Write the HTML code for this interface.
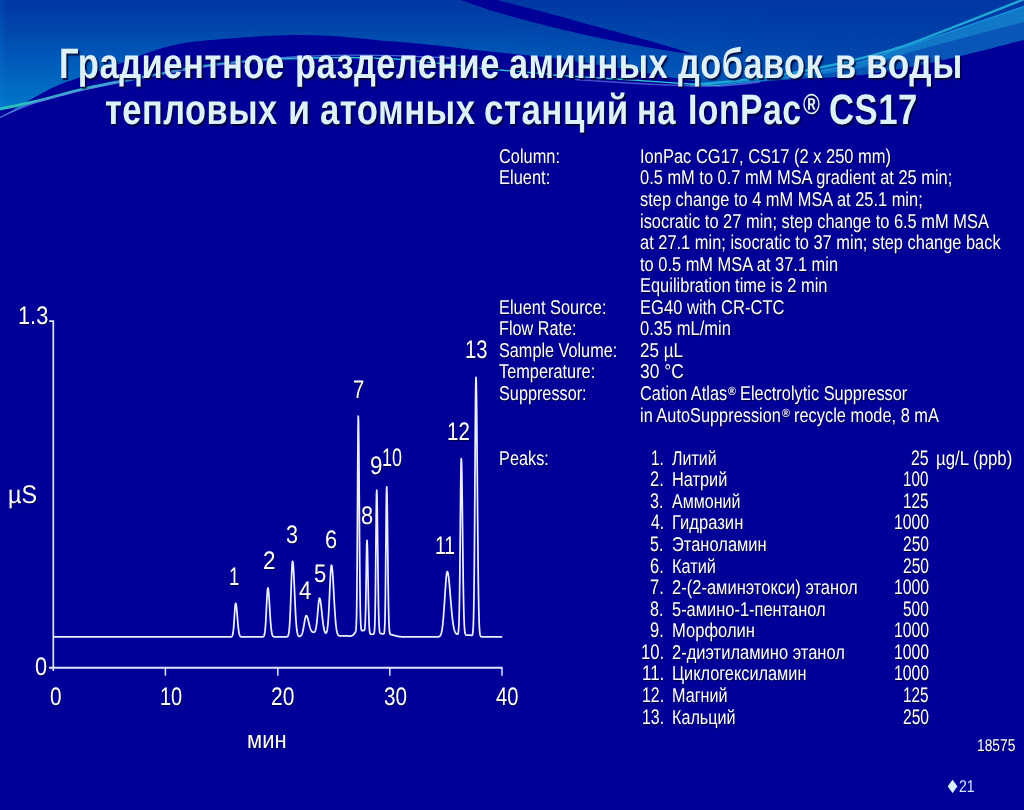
<!DOCTYPE html>
<html lang="ru"><head><meta charset="utf-8"><title>Градиентное разделение аминных добавок</title>
<style>
*{margin:0;padding:0;box-sizing:border-box}
html,body{width:1024px;height:810px;overflow:hidden;background:#000099}
body{position:relative;font-family:"Liberation Sans",sans-serif;color:#fff}
#bg,#ch{position:absolute;left:0;top:0;width:1024px;height:810px}
.t{position:absolute;white-space:pre;line-height:1;transform-origin:0 0;text-rendering:geometricPrecision}
.ttl{font-weight:bold;font-size:42.5px;color:#dcf1f9;text-shadow:2px 2px 1.5px rgba(0,0,40,0.85)}
.b{font-size:19.9px;text-shadow:1px 1px 0 #00003a}
.c{font-size:25.3px;text-shadow:1px 1px 0 #00003a}
.s{font-size:16.5px;text-shadow:1px 1px 0 #00003a}
</style></head>
<body>
<svg id="bg" width="1024" height="810" viewBox="0 0 1024 810">
<defs>
<linearGradient id="g1" gradientUnits="userSpaceOnUse" x1="0" y1="0" x2="0" y2="120">
<stop offset="0" stop-color="#0037a3"/><stop offset="0.28" stop-color="#0049ad"/><stop offset="0.5" stop-color="#005ab9"/><stop offset="0.77" stop-color="#006ec3"/><stop offset="1" stop-color="#0080cc"/>
</linearGradient>
<linearGradient id="g3" gradientUnits="userSpaceOnUse" x1="0" y1="0" x2="330" y2="0">
<stop offset="0" stop-color="#2cc0c0" stop-opacity="1"/><stop offset="0.5" stop-color="#2cc0c8" stop-opacity="0.8"/><stop offset="1" stop-color="#2cc0c8" stop-opacity="0"/>
</linearGradient>
<linearGradient id="g2" gradientUnits="userSpaceOnUse" x1="0" y1="0" x2="1024" y2="0">
<stop offset="0" stop-color="#0a8ae0" stop-opacity="0.18"/><stop offset="0.006" stop-color="#0a8ae0" stop-opacity="0"/>
<stop offset="0.5" stop-color="#0036a4" stop-opacity="0"/><stop offset="0.8" stop-color="#0036a4" stop-opacity="0.5"/><stop offset="1" stop-color="#0036a4" stop-opacity="0.6"/>
</linearGradient>
</defs>
<rect width="1024" height="810" fill="#000099"/>
<path d="M-2,-2H1026V39.2C1015.0,42.0 979.8,51.3 960.0,56.0C940.2,60.7 925.3,64.2 907.0,67.5C888.7,70.8 868.0,74.2 850.0,76.0C832.0,77.8 815.3,77.4 799.0,78.5C782.7,79.6 765.2,81.3 752.0,82.5C738.8,83.7 730.3,84.8 720.0,85.5C709.7,86.2 695.0,86.8 690.0,87.0L690.0,84.0C681.7,83.4 655.0,81.5 640.0,80.5C625.0,79.5 613.3,78.8 600.0,78.0C586.7,77.2 571.7,76.4 560.0,75.5C548.3,74.6 540.0,73.4 530.0,72.5C520.0,71.6 508.3,70.7 500.0,70.0C491.7,69.3 487.0,69.1 480.0,68.3C473.0,67.5 468.5,66.6 458.0,65.4C447.5,64.2 427.5,62.1 417.0,61.0C406.5,59.9 406.2,59.6 395.0,59.0C383.8,58.4 365.8,57.6 350.0,57.5C334.2,57.4 315.0,57.9 300.0,58.3C285.0,58.7 276.7,58.6 260.0,60.0C243.3,61.4 223.3,63.0 200.0,66.6C176.7,70.2 139.5,77.8 120.0,81.5C100.5,85.2 93.0,86.8 83.0,89.0C73.0,91.2 68.8,92.7 60.0,95.0C51.2,97.3 40.3,100.3 30.0,102.7C19.7,105.1 3.3,108.4 -2.0,109.5L-2,119Z" fill="url(#g1)"/>
<path d="M-2,-2H1026V39.2C1015.0,42.0 979.8,51.3 960.0,56.0C940.2,60.7 925.3,64.2 907.0,67.5C888.7,70.8 868.0,74.2 850.0,76.0C832.0,77.8 815.3,77.4 799.0,78.5C782.7,79.6 765.2,81.3 752.0,82.5C738.8,83.7 730.3,84.8 720.0,85.5C709.7,86.2 695.0,86.8 690.0,87.0L690.0,84.0C681.7,83.4 655.0,81.5 640.0,80.5C625.0,79.5 613.3,78.8 600.0,78.0C586.7,77.2 571.7,76.4 560.0,75.5C548.3,74.6 540.0,73.4 530.0,72.5C520.0,71.6 508.3,70.7 500.0,70.0C491.7,69.3 487.0,69.1 480.0,68.3C473.0,67.5 468.5,66.6 458.0,65.4C447.5,64.2 427.5,62.1 417.0,61.0C406.5,59.9 406.2,59.6 395.0,59.0C383.8,58.4 365.8,57.6 350.0,57.5C334.2,57.4 315.0,57.9 300.0,58.3C285.0,58.7 276.7,58.6 260.0,60.0C243.3,61.4 223.3,63.0 200.0,66.6C176.7,70.2 139.5,77.8 120.0,81.5C100.5,85.2 93.0,86.8 83.0,89.0C73.0,91.2 68.8,92.7 60.0,95.0C51.2,97.3 40.3,100.3 30.0,102.7C19.7,105.1 3.3,108.4 -2.0,109.5L-2,119Z" fill="url(#g2)"/>
<path d="M-2,109.5C10,107 20,105 32,102.3C22,107 10,112.5 -2,118.5Z" fill="#0a78c8"/>
<path d="M720.0,85.0C730.7,83.8 765.7,80.2 784.0,77.5C802.3,74.8 817.2,71.6 830.0,69.0C842.8,66.4 848.3,65.6 860.6,62.0C872.9,58.4 876.4,56.9 904.0,47.5C931.6,38.1 1005.7,12.8 1026.0,5.8V39.2C1015.0,42.0 979.8,51.3 960.0,56.0C940.2,60.7 925.3,64.2 907.0,67.5C888.7,70.8 868.0,74.2 850.0,76.0C832.0,77.8 815.3,77.4 799.0,78.5C782.7,79.6 765.2,81.3 752.0,82.5C738.8,83.7 730.3,84.8 720.0,85.5C709.7,86.2 695.0,86.8 690.0,87.0Z" fill="#0a55b8"/>
<path d="M720.0,85.0C730.7,83.8 765.7,80.2 784.0,77.5C802.3,74.8 817.2,71.6 830.0,69.0C842.8,66.4 848.3,65.6 860.6,62.0C872.9,58.4 876.4,56.9 904.0,47.5C931.6,38.1 1005.7,12.8 1026.0,5.8V21.5C1005.7,26.9 931.7,46.2 904.0,54.0C876.3,61.8 880.0,63.8 860.0,68.0C840.0,72.2 796.7,77.2 784.0,79.0Z" fill="#1178c8"/>
<path d="M-2.0,119.0C3.0,116.0 17.7,106.8 28.0,101.0C38.3,95.2 48.0,89.5 60.0,84.5C72.0,79.5 81.7,77.4 100.0,71.0C118.3,64.6 148.3,51.4 170.0,46.0C191.7,40.6 209.3,40.3 230.0,38.5C250.7,36.7 275.7,35.3 294.0,35.0C312.3,34.7 325.7,35.6 340.0,36.5C354.3,37.4 370.0,39.6 380.0,40.5C390.0,41.4 390.0,41.1 400.0,42.0C410.0,42.9 428.3,44.5 440.0,45.8C451.7,47.0 458.3,48.2 470.0,49.5C481.7,50.8 496.7,52.1 510.0,53.5C523.3,54.9 535.0,55.8 550.0,57.7C565.0,59.6 585.0,62.6 600.0,65.0C615.0,67.4 626.7,69.7 640.0,72.0C653.3,74.3 670.0,77.3 680.0,79.0C690.0,80.7 696.7,81.5 700.0,82.0L690,84C681.7,83.4 655.0,81.5 640.0,80.5C625.0,79.5 613.3,78.8 600.0,78.0C586.7,77.2 571.7,76.4 560.0,75.5C548.3,74.6 540.0,73.4 530.0,72.5C520.0,71.6 508.3,70.7 500.0,70.0C491.7,69.3 487.0,69.1 480.0,68.3C473.0,67.5 468.5,66.6 458.0,65.4C447.5,64.2 427.5,62.1 417.0,61.0C406.5,59.9 406.2,59.6 395.0,59.0C383.8,58.4 365.8,57.6 350.0,57.5C334.2,57.4 315.0,57.9 300.0,58.3C285.0,58.7 276.7,58.6 260.0,60.0C243.3,61.4 223.3,63.0 200.0,66.6C176.7,70.2 139.5,77.8 120.0,81.5C100.5,85.2 93.0,86.8 83.0,89.0C73.0,91.2 68.8,92.7 60.0,95.0C51.2,97.3 40.3,100.3 30.0,102.7C19.7,105.1 3.3,108.4 -2.0,109.5L-2,119Z" fill="#000099"/>
<path d="M457.0,-2.0C457.6,-1.7 452.0,-2.9 460.5,0.0C469.0,2.9 488.6,10.0 508.0,15.5C527.4,21.0 554.2,27.8 577.0,33.0C599.8,38.2 625.2,43.1 645.0,46.8C664.8,50.5 687.5,53.6 696.0,55.0C689.8,53.1 674.3,47.9 659.0,43.5C643.7,39.1 622.3,33.5 604.0,28.5C585.7,23.5 566.8,18.2 549.0,13.5C531.2,8.8 506.7,2.6 497.4,0.0C488.1,-2.6 493.7,-1.7 493.0,-2.0Z" fill="#000099"/>
<path d="M-2.0,109.5C3.3,108.4 19.7,105.1 30.0,102.7C40.3,100.3 51.2,97.3 60.0,95.0C68.8,92.7 73.0,91.2 83.0,89.0C93.0,86.8 100.5,85.2 120.0,81.5C139.5,77.8 176.7,70.2 200.0,66.6C223.3,63.0 243.3,61.4 260.0,60.0C276.7,58.6 285.0,58.7 300.0,58.3C315.0,57.9 334.2,57.4 350.0,57.5C365.8,57.6 383.8,58.4 395.0,59.0C406.2,59.6 406.5,59.9 417.0,61.0C427.5,62.1 447.5,64.2 458.0,65.4C468.5,66.6 473.0,67.5 480.0,68.3C487.0,69.1 491.7,69.3 500.0,70.0C508.3,70.7 520.0,71.6 530.0,72.5C540.0,73.4 548.3,74.6 560.0,75.5C571.7,76.4 586.7,77.2 600.0,78.0C613.3,78.8 625.0,79.5 640.0,80.5C655.0,81.5 676.7,83.2 690.0,84.0C703.3,84.8 715.0,85.2 720.0,85.5" fill="none" stroke="#2cc6cc" stroke-width="1.3"/>
<path d="M-2.0,109.5C3.3,108.4 19.7,105.1 30.0,102.7C40.3,100.3 51.2,97.3 60.0,95.0C68.8,92.7 73.0,91.2 83.0,89.0C93.0,86.8 100.5,85.2 120.0,81.5C139.5,77.8 176.7,70.2 200.0,66.6C223.3,63.0 243.3,61.4 260.0,60.0C276.7,58.6 285.0,58.7 300.0,58.3C315.0,57.9 341.7,57.6 350.0,57.5" fill="none" stroke="url(#g3)" stroke-width="2.8"/>
<path d="M-2,118.5C10,112.5 22,107 34,103C60,95 100,85 160,74C200,67 250,59 300,56.5C350,54 400,55 450,58" fill="none" stroke="#5a82e8" stroke-width="1.4" opacity="0.8"/>
<path d="M700.0,84.0C706.7,83.4 726.0,82.1 740.0,80.5C754.0,78.9 769.0,77.0 784.0,74.5C799.0,72.0 817.2,68.2 830.0,65.5C842.8,62.8 850.0,61.0 860.6,58.3C871.2,55.6 882.8,52.6 893.4,49.3C904.0,46.0 901.9,47.1 924.0,38.6C946.1,30.1 1009.0,5.2 1026.0,-1.5" fill="none" stroke="#1fa6d6" stroke-width="2.4"/>
<path d="M720.0,85.0C730.7,83.8 765.7,80.2 784.0,77.5C802.3,74.8 817.2,71.6 830.0,69.0C842.8,66.4 848.3,65.6 860.6,62.0C872.9,58.4 876.4,56.9 904.0,47.5C931.6,38.1 1005.7,12.8 1026.0,5.8" fill="none" stroke="#1a90d8" stroke-width="1.3"/>
<path d="M575,79.5C620,82.5 680,87 720,86C740,85 750,83.5 760,82" fill="none" stroke="#5566dd" stroke-width="1.3" opacity="0.8"/>
</svg>
<svg id="ch" width="1024" height="810" viewBox="0 0 1024 810" fill="none" stroke="#e2e5ff" stroke-width="1.7">
<path d="M49.2,321.2H53.3V671"/>
<path d="M49,667.8H502.6" stroke-width="1.9"/>
<path d="M165.4,667.8V675.8M277.8,667.8V675.8M389.8,667.8V675.8M502,667.8V675.8" stroke-width="1.5"/>
<path d="M53.50,636.9L230.25,636.9L230.50,636.9L230.75,636.9L231.00,636.9L231.25,636.8L231.50,636.7L231.75,636.6L232.00,636.3L232.25,635.9L232.50,635.3L232.75,634.3L233.00,633.0L233.25,631.2L233.50,628.9L233.75,626.0L234.00,622.6L234.25,618.9L234.50,615.0L234.75,611.2L235.00,607.8L235.25,605.3L235.50,603.7L235.75,603.3L236.00,603.9L236.25,605.2L236.50,607.1L236.75,609.6L237.00,612.5L237.25,615.6L237.50,618.7L237.75,621.7L238.00,624.6L238.25,627.1L238.50,629.3L238.75,631.1L239.00,632.6L239.25,633.8L239.50,634.7L239.75,635.4L240.00,635.9L240.25,636.2L240.50,636.5L240.75,636.6L241.00,636.7L241.25,636.8L241.50,636.8L241.75,636.9L242.00,636.9L242.25,636.9L262.00,636.9L262.25,636.9L262.50,636.9L262.75,636.8L263.00,636.8L263.25,636.7L263.50,636.5L263.75,636.3L264.00,635.9L264.25,635.3L264.50,634.3L264.75,633.0L265.00,631.2L265.25,628.7L265.50,625.6L265.75,621.8L266.00,617.4L266.25,612.4L266.50,607.2L266.75,601.9L267.00,597.0L267.25,592.9L267.50,589.9L267.75,588.2L268.00,588.0L268.25,588.9L268.50,590.7L268.75,593.4L269.00,596.7L269.25,600.5L269.50,604.6L269.75,608.9L270.00,613.0L270.25,617.0L270.50,620.6L270.75,623.9L271.00,626.7L271.25,629.1L271.50,631.0L271.75,632.5L272.00,633.8L272.25,634.7L272.50,635.4L272.75,635.8L273.00,636.2L273.25,636.4L273.50,636.6L273.75,636.7L274.00,636.8L274.25,636.8L274.50,636.9L274.75,636.9L275.00,636.9L275.25,636.9L286.00,636.9L286.25,636.9L286.50,636.9L286.75,636.8L287.00,636.8L287.25,636.7L287.50,636.6L287.75,636.3L288.00,636.0L288.25,635.4L288.50,634.6L288.75,633.4L289.00,631.8L289.25,629.6L289.50,626.7L289.75,622.9L290.00,618.4L290.25,612.9L290.50,606.7L290.75,599.8L291.00,592.5L291.25,585.1L291.50,578.1L291.75,571.8L292.00,566.7L292.25,563.1L292.50,561.4L292.75,561.4L293.00,562.8L293.25,565.3L293.50,568.9L293.75,573.4L294.00,578.6L294.25,584.2L294.50,590.1L294.75,596.0L295.00,601.7L295.25,607.1L295.50,612.1L295.75,616.6L296.00,620.6L296.25,624.0L296.50,626.8L296.75,629.1L297.00,631.0L297.25,632.5L297.50,633.6L297.75,634.5L298.00,635.1L298.25,635.6L298.50,635.9L298.75,636.1L299.00,636.3L299.25,636.3L299.50,636.3L299.75,636.3L300.00,636.3L300.25,636.2L300.50,636.1L300.75,635.9L301.00,635.7L301.25,635.4L301.50,635.0L301.75,634.6L302.00,634.0L302.25,633.3L302.50,632.5L302.75,631.6L303.00,630.5L303.25,629.3L303.50,628.0L303.75,626.6L304.00,625.1L304.25,623.6L304.50,622.0L304.75,620.6L305.00,619.2L305.25,618.0L305.50,617.0L305.75,616.2L306.00,615.8L306.25,615.6L306.50,615.6L306.75,615.8L307.00,616.3L307.25,616.8L307.50,617.5L307.75,618.4L308.00,619.3L308.25,620.3L308.50,621.4L308.75,622.4L309.00,623.5L309.25,624.5L309.50,625.5L309.75,626.5L310.00,627.4L310.25,628.2L310.50,628.9L310.75,629.5L311.00,630.1L311.25,630.6L311.50,631.0L311.75,631.3L312.00,631.6L312.25,631.8L312.50,632.0L312.75,632.1L313.00,632.2L313.25,632.3L313.50,632.3L313.75,632.3L314.00,632.3L314.25,632.1L314.50,632.0L314.75,631.7L315.00,631.3L315.25,630.8L315.50,630.1L315.75,629.2L316.00,628.0L316.25,626.6L316.50,624.9L316.75,622.9L317.00,620.5L317.25,618.0L317.50,615.2L317.75,612.3L318.00,609.4L318.25,606.6L318.50,604.0L318.75,601.7L319.00,600.0L319.25,598.8L319.50,598.2L319.75,598.3L320.00,598.8L320.25,599.8L320.50,601.1L320.75,602.8L321.00,604.7L321.25,606.9L321.50,609.2L321.75,611.6L322.00,614.0L322.25,616.4L322.50,618.7L322.75,620.8L323.00,622.8L323.25,624.7L323.50,626.3L323.75,627.8L324.00,629.0L324.25,630.1L324.50,631.0L324.75,631.7L325.00,632.3L325.25,632.7L325.50,633.0L325.75,633.1L326.00,633.1L326.25,632.9L326.50,632.5L326.75,631.9L327.00,631.0L327.25,629.7L327.50,628.0L327.75,625.9L328.00,623.2L328.25,620.0L328.50,616.2L328.75,611.8L329.00,607.0L329.25,601.6L329.50,596.0L329.75,590.3L330.00,584.7L330.25,579.4L330.50,574.6L330.75,570.6L331.00,567.6L331.25,565.8L331.50,565.2L331.75,565.7L332.00,566.9L332.25,569.0L332.50,571.7L332.75,575.0L333.00,578.8L333.25,583.1L333.50,587.5L333.75,592.2L334.00,596.8L334.25,601.4L334.50,605.8L334.75,609.9L335.00,613.8L335.25,617.3L335.50,620.4L335.75,623.2L336.00,625.6L336.25,627.7L336.50,629.4L336.75,630.8L337.00,632.0L337.25,633.0L337.50,633.7L337.75,634.3L338.00,634.8L338.25,635.1L338.50,635.4L338.75,635.5L339.00,635.7L339.25,635.8L339.50,635.8L339.75,635.9L340.00,635.9L340.25,635.9L340.50,635.9L340.75,635.9L341.00,635.9L341.25,635.9L341.50,635.9L341.75,635.9L342.00,635.8L342.25,635.8L342.50,635.8L342.75,635.8L343.00,635.8L343.25,635.8L343.50,635.8L343.75,635.8L344.00,635.8L344.25,635.8L344.50,635.8L344.75,635.8L345.00,635.8L345.25,635.8L345.50,635.8L345.75,635.8L346.00,635.8L346.25,635.9L346.50,635.9L346.75,635.9L347.00,635.9L347.25,635.9L347.50,635.9L347.75,635.9L348.00,636.0L348.25,636.0L348.50,636.0L348.75,636.0L349.00,636.0L349.25,636.0L349.50,636.0L349.75,636.0L350.00,636.0L350.25,636.0L350.50,636.0L350.75,636.0L351.00,636.0L351.25,635.9L351.50,635.9L351.75,635.8L352.00,635.7L352.25,635.6L352.50,635.4L352.75,635.2L353.00,635.1L353.25,634.8L353.50,634.6L353.75,634.3L354.00,634.0L354.25,633.7L354.50,633.4L354.75,633.1L355.00,632.7L355.25,632.3L355.50,631.8L355.75,631.0L356.00,629.4L356.25,626.0L356.50,618.8L356.75,605.2L357.00,582.6L357.25,549.8L357.50,508.7L357.75,466.2L358.00,432.1L358.25,416.1L358.50,420.5L358.75,439.0L359.00,467.9L359.25,502.0L359.50,535.9L359.75,565.7L360.00,589.2L360.25,606.0L360.50,617.1L360.75,623.7L361.00,627.4L361.25,629.3L361.50,630.2L361.75,630.6L362.00,630.7L362.25,630.7L362.50,630.7L362.75,630.6L363.00,630.6L363.25,630.5L363.50,630.5L363.75,630.5L364.00,630.4L364.25,630.3L364.50,629.9L364.75,629.0L365.00,626.8L365.25,622.6L365.50,615.3L365.75,604.2L366.00,589.4L366.25,572.4L366.50,556.3L366.75,544.6L367.00,540.4L367.25,543.5L367.50,551.6L367.75,563.6L368.00,577.4L368.25,591.3L368.50,603.7L368.75,613.8L369.00,621.4L369.25,626.7L369.50,630.0L369.75,632.1L370.00,633.2L370.25,633.8L370.50,634.1L370.75,634.2L371.00,634.3L371.25,634.3L371.50,634.3L371.75,634.3L372.00,634.3L372.25,634.2L372.50,634.2L372.75,634.2L373.00,634.1L373.25,634.1L373.50,634.0L373.75,633.8L374.00,633.4L374.25,632.6L374.50,630.6L374.75,626.4L375.00,618.7L375.25,605.9L375.50,587.1L375.75,562.7L376.00,535.7L376.25,511.0L376.50,494.4L376.75,490.2L377.00,496.3L377.25,510.1L377.50,529.3L377.75,550.8L378.00,571.8L378.25,590.3L378.50,605.1L378.75,615.9L379.00,623.3L379.25,627.9L379.50,630.7L379.75,632.2L380.00,632.9L380.25,633.3L380.50,633.5L380.75,633.6L381.00,633.6L381.25,633.7L381.50,633.7L381.75,633.7L382.00,633.7L382.25,633.8L382.50,633.8L382.75,633.8L383.00,633.9L383.25,633.9L383.50,633.9L383.75,633.8L384.00,633.5L384.25,632.7L384.50,630.7L384.75,626.5L385.00,618.7L385.25,605.6L385.50,586.2L385.75,561.3L386.00,533.6L386.25,508.3L386.50,491.2L386.75,486.9L387.00,493.2L387.25,507.4L387.50,527.1L387.75,549.3L388.00,570.9L388.25,589.9L388.50,605.1L388.75,616.3L389.00,623.9L389.25,628.7L389.50,631.5L389.75,633.1L390.00,633.9L390.25,634.3L390.50,634.5L390.75,634.6L391.00,634.6L391.25,634.7L391.50,634.7L391.75,634.8L392.00,634.8L392.25,634.9L392.50,635.0L392.75,635.0L393.00,635.1L393.25,635.1L393.50,635.2L393.75,635.3L394.00,635.3L394.25,635.4L394.50,635.5L394.75,635.6L395.00,635.6L395.25,635.7L395.50,635.8L395.75,635.8L396.00,635.9L396.25,636.0L396.50,636.0L396.75,636.1L397.00,636.1L397.25,636.2L397.50,636.3L397.75,636.3L398.00,636.4L398.25,636.4L398.50,636.4L398.75,636.5L399.00,636.5L399.25,636.6L399.50,636.6L399.75,636.6L400.00,636.7L400.25,636.7L400.50,636.7L400.75,636.7L401.00,636.7L401.25,636.8L401.50,636.8L401.75,636.8L402.00,636.8L402.25,636.8L402.50,636.8L402.75,636.8L403.00,636.8L403.25,636.9L403.50,636.9L403.75,636.9L404.00,636.9L404.25,636.9L404.50,636.9L404.75,636.9L405.00,636.9L405.25,636.9L405.50,636.9L405.75,636.9L406.00,636.9L436.50,636.9L436.75,636.9L437.00,636.9L437.25,636.9L437.50,636.9L437.75,636.9L438.00,636.8L438.25,636.8L438.50,636.8L438.75,636.7L439.00,636.6L439.25,636.5L439.50,636.4L439.75,636.2L440.00,636.0L440.25,635.7L440.50,635.3L440.75,634.8L441.00,634.2L441.25,633.4L441.50,632.5L441.75,631.3L442.00,630.0L442.25,628.4L442.50,626.6L442.75,624.5L443.00,622.0L443.25,619.3L443.50,616.4L443.75,613.1L444.00,609.6L444.25,605.9L444.50,602.1L444.75,598.2L445.00,594.2L445.25,590.3L445.50,586.6L445.75,583.1L446.00,579.9L446.25,577.2L446.50,574.9L446.75,573.2L447.00,572.1L447.25,571.6L447.50,571.7L447.75,572.2L448.00,573.1L448.25,574.4L448.50,576.1L448.75,578.0L449.00,580.3L449.25,582.8L449.50,585.5L449.75,588.4L450.00,591.4L450.25,594.5L450.50,597.6L450.75,600.7L451.00,603.7L451.25,606.6L451.50,609.5L451.75,612.2L452.00,614.7L452.25,617.1L452.50,619.3L452.75,621.3L453.00,623.1L453.25,624.8L453.50,626.2L453.75,627.5L454.00,628.7L454.25,629.7L454.50,630.5L454.75,631.2L455.00,631.9L455.25,632.4L455.50,632.8L455.75,633.2L456.00,633.5L456.25,633.7L456.50,633.9L456.75,634.0L457.00,634.1L457.25,634.2L457.50,634.2L457.75,634.1L458.00,633.7L458.25,632.8L458.50,631.0L458.75,627.7L459.00,622.0L459.25,613.0L459.50,599.7L459.75,581.6L460.00,558.9L460.25,533.0L460.50,506.6L460.75,483.1L461.00,466.1L461.25,458.6L461.50,460.7L461.75,469.5L462.00,484.1L462.25,502.7L462.50,523.6L462.75,544.9L463.00,564.9L463.25,582.7L463.50,597.5L463.75,609.1L464.00,617.8L464.25,624.1L464.50,628.3L464.75,631.1L465.00,632.8L465.25,633.8L465.50,634.4L465.75,634.7L466.00,634.9L466.25,635.0L466.50,635.0L466.75,635.1L467.00,635.1L467.25,635.1L467.50,635.1L467.75,635.1L468.00,635.1L468.25,635.1L468.50,635.1L468.75,635.1L469.00,635.1L469.25,635.1L469.50,635.2L469.75,635.2L470.00,635.2L470.25,635.2L470.50,635.2L470.75,635.3L471.00,635.3L471.25,635.3L471.50,635.3L471.75,635.3L472.00,635.2L472.25,635.0L472.50,634.5L472.75,633.4L473.00,631.2L473.25,627.3L473.50,620.5L473.75,609.7L474.00,593.6L474.25,571.3L474.50,542.6L474.75,508.5L475.00,471.5L475.25,435.4L475.50,405.0L475.75,384.5L476.00,377.3L476.25,382.0L476.50,395.5L476.75,416.4L477.00,442.7L477.25,471.9L477.50,501.7L477.75,530.0L478.00,555.4L478.25,577.0L478.50,594.4L478.75,607.7L479.00,617.6L479.25,624.6L479.50,629.3L479.75,632.3L480.00,634.2L480.25,635.3L480.50,636.0L480.75,636.4L481.00,636.6L481.25,636.7L481.50,636.8L481.75,636.8L482.00,636.8L482.25,636.8L482.50,636.8L482.75,636.8L483.00,636.8L483.25,636.9L483.50,636.9L483.75,636.9L484.00,636.9L484.25,636.9L484.50,636.9L484.75,636.9L485.00,636.9L485.25,636.9L485.50,636.9L485.75,636.9L486.00,636.9L502.25,636.9" stroke-linejoin="round" stroke-width="1.75" stroke="#eceeff"/>
</svg>
<div class="t ttl" style="left:59.44px;top:44.01px;transform:scaleX(0.8142);letter-spacing:0.6px;">Градиентное</div>
<div class="t ttl" style="left:294.95px;top:44.01px;transform:scaleX(0.8083);letter-spacing:0.6px;">разделение</div>
<div class="t ttl" style="left:509.16px;top:44.01px;transform:scaleX(0.8095);letter-spacing:0.6px;">аминных</div>
<div class="t ttl" style="left:678.20px;top:44.01px;transform:scaleX(0.8073);letter-spacing:0.6px;">добавок</div>
<div class="t ttl" style="left:835.34px;top:44.01px;transform:scaleX(0.8123);letter-spacing:0.6px;">в</div>
<div class="t ttl" style="left:865.70px;top:44.01px;transform:scaleX(0.8301);letter-spacing:0.6px;">воды</div>
<div class="t ttl" style="left:104.56px;top:90.01px;transform:scaleX(0.8089);letter-spacing:0.6px;">тепловых</div>
<div class="t ttl" style="left:287.55px;top:90.01px;transform:scaleX(0.8452);letter-spacing:0.6px;">и</div>
<div class="t ttl" style="left:320.26px;top:90.01px;transform:scaleX(0.8162);letter-spacing:0.6px;">атомных</div>
<div class="t ttl" style="left:484.11px;top:90.01px;transform:scaleX(0.8209);letter-spacing:0.6px;">станций</div>
<div class="t ttl" style="left:637.34px;top:90.01px;transform:scaleX(0.7755);letter-spacing:0.6px;">на</div>
<div class="t ttl" style="left:688.29px;top:90.01px;transform:scaleX(0.7949);letter-spacing:0.6px;">IonPac</div>
<div class="t ttl" style="left:802.94px;top:91.01px;transform:scaleX(0.7916);font-size:29px;">®</div>
<div class="t ttl" style="left:829.31px;top:90.01px;transform:scaleX(0.8176);letter-spacing:0.6px;">CS17</div>
<div class="t b" style="left:498.80px;top:148.01px;transform:scaleX(0.8229);">Column:</div>
<div class="t b" style="left:498.80px;top:169.01px;transform:scaleX(0.8280);">Eluent:</div>
<div class="t b" style="left:498.80px;top:299.01px;transform:scaleX(0.8234);">Eluent Source:</div>
<div class="t b" style="left:498.80px;top:320.01px;transform:scaleX(0.8145);">Flow Rate:</div>
<div class="t b" style="left:498.80px;top:342.01px;transform:scaleX(0.8162);">Sample Volume:</div>
<div class="t b" style="left:498.80px;top:363.01px;transform:scaleX(0.8212);">Temperature:</div>
<div class="t b" style="left:498.80px;top:385.01px;transform:scaleX(0.8171);">Suppressor:</div>
<div class="t b" style="left:498.80px;top:450.01px;transform:scaleX(0.8198);">Peaks:</div>
<div class="t b" style="left:639.90px;top:148.01px;transform:scaleX(0.8288);">IonPac CG17, CS17 (2 x 250 mm)</div>
<div class="t b" style="left:639.90px;top:169.01px;transform:scaleX(0.8260);">0.5 mM to 0.7 mM MSA gradient at 25 min;</div>
<div class="t b" style="left:639.90px;top:191.01px;transform:scaleX(0.8248);">step change to 4 mM MSA at 25.1 min;</div>
<div class="t b" style="left:639.90px;top:213.01px;transform:scaleX(0.8261);">isocratic to 27 min; step change to 6.5 mM MSA</div>
<div class="t b" style="left:639.90px;top:234.01px;transform:scaleX(0.8259);">at 27.1 min; isocratic to 37 min; step change back</div>
<div class="t b" style="left:639.90px;top:256.01px;transform:scaleX(0.8255);">to 0.5 mM MSA at 37.1 min</div>
<div class="t b" style="left:639.90px;top:277.01px;transform:scaleX(0.8271);">Equilibration time is 2 min</div>
<div class="t b" style="left:639.90px;top:299.01px;transform:scaleX(0.8328);">EG40 with CR-CTC</div>
<div class="t b" style="left:639.90px;top:320.01px;transform:scaleX(0.8313);">0.35 mL/min</div>
<div class="t b" style="left:639.90px;top:342.01px;transform:scaleX(0.8571);">25 µL</div>
<div class="t b" style="left:639.90px;top:363.01px;transform:scaleX(0.8742);">30 °C</div>
<div class="t b" style="left:639.90px;top:385.01px;transform:scaleX(0.8212);">Cation Atlas</div>
<div class="t b" style="left:728.43px;top:385.01px;transform:scaleX(0.9059);font-size:12px;font-weight:bold;">®</div>
<div class="t b" style="left:740.32px;top:385.01px;transform:scaleX(0.8224);">Electrolytic Suppressor</div>
<div class="t b" style="left:639.90px;top:407.01px;transform:scaleX(0.8223);">in AutoSuppression</div>
<div class="t b" style="left:781.63px;top:407.01px;transform:scaleX(0.9059);font-size:12px;font-weight:bold;">®</div>
<div class="t b" style="left:793.67px;top:407.01px;transform:scaleX(0.8249);">recycle mode, 8 mA</div>
<div class="t b" style="left:651.05px;top:448.00px;transform:scaleX(0.7201);font-size:21px;">1.</div>
<div class="t b" style="left:672.40px;top:450.01px;transform:scaleX(0.8058);">Литий</div>
<div class="t b" style="left:911.25px;top:448.00px;transform:scaleX(0.7573);font-size:21px;">25</div>
<div class="t b" style="left:650.03px;top:469.00px;transform:scaleX(0.7859);font-size:21px;">2.</div>
<div class="t b" style="left:672.40px;top:471.01px;transform:scaleX(0.8211);">Натрий</div>
<div class="t b" style="left:903.35px;top:469.00px;transform:scaleX(0.7228);font-size:21px;">100</div>
<div class="t b" style="left:650.30px;top:491.00px;transform:scaleX(0.7687);font-size:21px;">3.</div>
<div class="t b" style="left:672.40px;top:493.01px;transform:scaleX(0.8071);">Аммоний</div>
<div class="t b" style="left:903.34px;top:491.00px;transform:scaleX(0.7301);font-size:21px;">125</div>
<div class="t b" style="left:650.55px;top:512.00px;transform:scaleX(0.7522);font-size:21px;">4.</div>
<div class="t b" style="left:672.40px;top:514.01px;transform:scaleX(0.8340);">Гидразин</div>
<div class="t b" style="left:893.61px;top:512.00px;transform:scaleX(0.7509);font-size:21px;">1000</div>
<div class="t b" style="left:650.30px;top:534.00px;transform:scaleX(0.7687);font-size:21px;">5.</div>
<div class="t b" style="left:672.40px;top:536.01px;transform:scaleX(0.8283);">Этаноламин</div>
<div class="t b" style="left:902.67px;top:534.00px;transform:scaleX(0.7426);font-size:21px;">250</div>
<div class="t b" style="left:650.03px;top:556.00px;transform:scaleX(0.7859);font-size:21px;">6.</div>
<div class="t b" style="left:672.40px;top:558.01px;transform:scaleX(0.8206);">Катий</div>
<div class="t b" style="left:902.67px;top:556.00px;transform:scaleX(0.7426);font-size:21px;">250</div>
<div class="t b" style="left:650.03px;top:577.00px;transform:scaleX(0.7859);font-size:21px;">7.</div>
<div class="t b" style="left:672.40px;top:579.01px;transform:scaleX(0.8306);">2-(2-аминэтокси) этанол</div>
<div class="t b" style="left:893.61px;top:577.00px;transform:scaleX(0.7509);font-size:21px;">1000</div>
<div class="t b" style="left:650.30px;top:599.00px;transform:scaleX(0.7687);font-size:21px;">8.</div>
<div class="t b" style="left:672.40px;top:601.01px;transform:scaleX(0.8266);">5-амино-1-пентанол</div>
<div class="t b" style="left:902.92px;top:599.00px;transform:scaleX(0.7354);font-size:21px;">500</div>
<div class="t b" style="left:650.03px;top:620.00px;transform:scaleX(0.7859);font-size:21px;">9.</div>
<div class="t b" style="left:672.40px;top:622.01px;transform:scaleX(0.8331);">Морфолин</div>
<div class="t b" style="left:893.61px;top:620.00px;transform:scaleX(0.7509);font-size:21px;">1000</div>
<div class="t b" style="left:640.66px;top:642.00px;transform:scaleX(0.7928);font-size:21px;">10.</div>
<div class="t b" style="left:672.40px;top:644.01px;transform:scaleX(0.8305);">2-диэтиламино этанол</div>
<div class="t b" style="left:893.61px;top:642.00px;transform:scaleX(0.7509);font-size:21px;">1000</div>
<div class="t b" style="left:641.54px;top:663.00px;transform:scaleX(0.8066);font-size:21px;">11.</div>
<div class="t b" style="left:672.40px;top:665.01px;transform:scaleX(0.8201);">Циклогексиламин</div>
<div class="t b" style="left:893.61px;top:663.00px;transform:scaleX(0.7509);font-size:21px;">1000</div>
<div class="t b" style="left:641.60px;top:685.00px;transform:scaleX(0.7582);font-size:21px;">12.</div>
<div class="t b" style="left:672.40px;top:687.01px;transform:scaleX(0.8127);">Магний</div>
<div class="t b" style="left:903.34px;top:685.00px;transform:scaleX(0.7301);font-size:21px;">125</div>
<div class="t b" style="left:641.60px;top:707.00px;transform:scaleX(0.7582);font-size:21px;">13.</div>
<div class="t b" style="left:672.40px;top:709.01px;transform:scaleX(0.8119);">Кальций</div>
<div class="t b" style="left:902.67px;top:707.00px;transform:scaleX(0.7426);font-size:21px;">250</div>
<div class="t b" style="left:935.95px;top:450.01px;transform:scaleX(0.8442);">µg/L (ppb)</div>
<div class="t s" style="left:977.34px;top:737.00px;transform:scaleX(0.8106);font-size:17px;">18575</div>
<div class="t s" style="left:945.15px;top:779.01px;transform:scaleX(0.9263);font-size:18.3px;font-family:'DejaVu Sans',sans-serif;color:#d9f0fa;text-shadow:none;">♦</div>
<div class="t s" style="left:958.64px;top:778.00px;transform:scaleX(0.8265);font-size:17px;color:#d4e6ff;text-shadow:none;">21</div>
<div class="t c" style="left:18.34px;top:304.01px;transform:scaleX(0.8600);">1.3</div>
<div class="t c" style="left:35.18px;top:655.01px;transform:scaleX(0.8600);">0</div>
<div class="t c" style="left:8.43px;top:483.01px;transform:scaleX(0.9268);">µS</div>
<div class="t c" style="left:49.75px;top:685.01px;transform:scaleX(0.8221);">0</div>
<div class="t c" style="left:159.55px;top:685.01px;transform:scaleX(0.7906);">10</div>
<div class="t c" style="left:270.81px;top:685.01px;transform:scaleX(0.8319);">20</div>
<div class="t c" style="left:383.95px;top:685.01px;transform:scaleX(0.8196);">30</div>
<div class="t c" style="left:496.49px;top:685.01px;transform:scaleX(0.7966);">40</div>
<div class="t c" style="left:246.52px;top:729.01px;transform:scaleX(0.8981);font-size:24.5px;">мин</div>
<div class="t c" style="left:229.04px;top:565.01px;transform:scaleX(0.7327);">1</div>
<div class="t c" style="left:262.65px;top:549.01px;transform:scaleX(0.8854);">2</div>
<div class="t c" style="left:285.72px;top:523.01px;transform:scaleX(0.8568);">3</div>
<div class="t c" style="left:298.95px;top:579.01px;transform:scaleX(0.8739);">4</div>
<div class="t c" style="left:313.61px;top:562.01px;transform:scaleX(0.8731);">5</div>
<div class="t c" style="left:324.58px;top:528.01px;transform:scaleX(0.8601);">6</div>
<div class="t c" style="left:352.85px;top:378.01px;transform:scaleX(0.8011);">7</div>
<div class="t c" style="left:360.92px;top:504.01px;transform:scaleX(0.8650);">8</div>
<div class="t c" style="left:370.05px;top:454.01px;transform:scaleX(0.8854);">9</div>
<div class="t c" style="left:381.58px;top:446.01px;transform:scaleX(0.7096);">10</div>
<div class="t c" style="left:434.99px;top:534.01px;transform:scaleX(0.7651);">11</div>
<div class="t c" style="left:446.92px;top:420.01px;transform:scaleX(0.8107);">12</div>
<div class="t c" style="left:465.44px;top:338.01px;transform:scaleX(0.7989);">13</div>
</body></html>
